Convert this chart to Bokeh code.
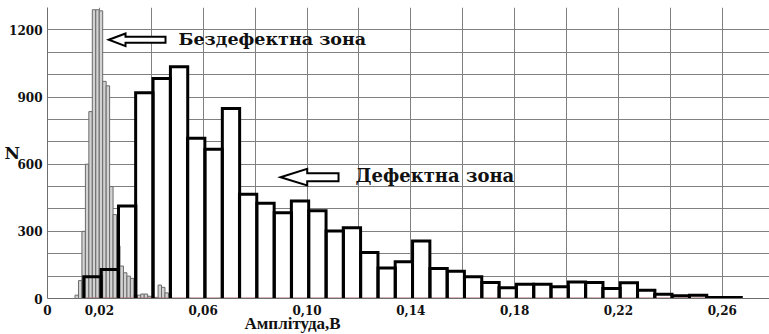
from bokeh.plotting import figure
from bokeh.models import Range1d, FixedTicker, Label, CustomJSTickFormatter, Title
from bokeh.embed import file_html
from bokeh.resources import INLINE

# ---------------- data ----------------
# defect zone histogram (bin centres, V) and counts
defect_centers = [0.0173, 0.0240, 0.0307, 0.0373, 0.0440, 0.0507, 0.0573, 0.0640,
                  0.0707, 0.0773, 0.0840, 0.0907, 0.0973, 0.1040, 0.1107, 0.1173,
                  0.1240, 0.1307, 0.1373, 0.1440, 0.1507, 0.1573, 0.1640, 0.1707,
                  0.1773, 0.1840, 0.1907, 0.1973, 0.2040, 0.2107, 0.2173, 0.2240,
                  0.2307, 0.2373, 0.2440, 0.2507, 0.2573, 0.2640]
defect_counts = [97, 130, 413, 919, 983, 1035, 716, 667, 849, 466, 425, 383, 436, 392,
                 301, 316, 206, 136, 164, 257, 134, 122, 97, 72, 48, 64, 64, 52, 74,
                 72, 45, 70, 37, 19, 12, 15, 4, 4]

# defect-free zone histogram
clean_centers = [0.01127, 0.0126, 0.01393, 0.01527, 0.0166, 0.01793, 0.01927, 0.0206,
                 0.02193, 0.02327, 0.0246, 0.02593, 0.02727, 0.0286, 0.02993, 0.03127,
                 0.0326, 0.03393, 0.03527, 0.0366, 0.03793, 0.03927, 0.0406, 0.04193,
                 0.04327, 0.0446, 0.04593]
clean_counts = [15, 80, 300, 600, 835, 1290, 1290, 1285, 970, 950, 500, 375, 235, 145,
                115, 100, 90, 15, 15, 20, 20, 10, 0, 5, 60, 50, 25]

x_tick_values = [0.0, 0.02, 0.06, 0.10, 0.14, 0.18, 0.22, 0.26]
x_tick_labels = ["0", "0,02", "0,06", "0,10", "0,14", "0,18", "0,22", "0,26"]
y_tick_values = [0, 300, 600, 900, 1200]
y_tick_labels = ["0", "300", "600", "900", "1200"]

x_title = "Амплітуда,В"
y_title = "N"
label_clean = "Бездефектна зона"
label_defect = "Дефектна зона"

# ---------------- figure ----------------
DEFECT_W = 0.02 / 3
CLEAN_W = 0.02 / 15
FONT = "DejaVu Serif"

p = figure(width=769, height=334, x_range=Range1d(0, 0.2782), y_range=Range1d(0, 1300),
           output_backend="svg", toolbar_location=None,
           min_border_left=47, min_border_right=0, min_border_top=7, min_border_bottom=36)
p.outline_line_color = None
p.background_fill_color = "white"
p.border_fill_color = "white"

p.xgrid.ticker = FixedTicker(ticks=[round(0.02 * i, 2) for i in range(15)])
p.ygrid.ticker = FixedTicker(ticks=list(range(0, 1301, 100)))
for g in (p.xgrid, p.ygrid):
    g.grid_line_color = "#808080"
    g.grid_line_width = 1

p.xaxis.ticker = FixedTicker(ticks=x_tick_values)
p.yaxis.ticker = FixedTicker(ticks=y_tick_values)
fmt_code = "const i = vals.findIndex(v => Math.abs(v - tick) < 1e-9); return i >= 0 ? labs[i] : '';"
p.xaxis.formatter = CustomJSTickFormatter(args=dict(vals=x_tick_values, labs=x_tick_labels), code=fmt_code)
p.yaxis.formatter = CustomJSTickFormatter(args=dict(vals=y_tick_values, labs=y_tick_labels), code=fmt_code)
for ax in (p.xaxis, p.yaxis):
    ax.major_tick_line_color = None
    ax.minor_tick_line_color = None
    ax.major_tick_out = 0
    ax.major_tick_in = 0
    ax.minor_tick_out = 0
    ax.minor_tick_in = 0
    ax.axis_line_color = "#6e6e6e"
    ax.major_label_text_font = FONT
    ax.major_label_text_font_style = "bold"
    ax.major_label_text_font_size = "12px"
    ax.major_label_text_color = "#111111"
p.xaxis.major_label_standoff = 6
p.yaxis.major_label_standoff = 5

# y axis title "N", horizontal, tucked into the tick-label column
p.yaxis.axis_label = y_title
p.yaxis.axis_label_orientation = "horizontal"
p.yaxis.axis_label_standoff = -14
p.yaxis.axis_label_text_font = FONT
p.yaxis.axis_label_text_font_style = "bold"
p.yaxis.axis_label_text_font_size = "17px"
p.yaxis.axis_label_text_color = "#111111"

# x axis title, left-of-centre as in the reference
p.add_layout(Title(text=x_title, align="left", offset=197, standoff=-10, vertical_align="middle",
                   text_font="Liberation Serif", text_font_style="bold", text_font_size="17px",
                   text_color="#111111"), "below")

# defect bars: white fill
d_left = [c - DEFECT_W / 2 for c in defect_centers]
d_right = [c + DEFECT_W / 2 for c in defect_centers]
p.quad(left=d_left, right=d_right, bottom=0, top=defect_counts,
       fill_color="white", line_color=None)

# defect-free bars
c_left = [c - CLEAN_W / 2 for c in clean_centers]
c_right = [c + CLEAN_W / 2 for c in clean_centers]
p.quad(left=c_left, right=c_right, bottom=0, top=clean_counts,
       fill_color="#d2d2d2", line_color="#6a6a6a", line_width=1)

# baseline under bars
p.segment(x0=d_left[0], x1=d_right[-1], y0=0, y1=0, line_color="#b06a6a", line_width=2)

# defect bar outlines (no bottom edge)
xs = [[l, l, r, r] for l, r in zip(d_left, d_right)]
ys = [[0, h, h, 0] for h in defect_counts]
p.multi_line(xs=xs, ys=ys, line_color="black", line_width=3, line_join="miter")

# ---------------- annotations (reference pixel positions) ----------------
X0_PX, PX_PER_X = 47.0, 2595.0
Y0_PX, PX_PER_Y = 298.0, 291.0 / 1300.0


def px2x(px):
    return (px - X0_PX) / PX_PER_X


def px2y(py):
    return (Y0_PX - py) / PX_PER_Y


def hollow_arrow(tx, ty, hl, hh, sh, sl):
    pts = [(tx, ty), (tx + hl, ty - hh), (tx + hl, ty - sh), (tx + hl + sl, ty - sh),
           (tx + hl + sl, ty + sh), (tx + hl, ty + sh), (tx + hl, ty + hh)]
    p.patch([px2x(a) for a, b in pts], [px2y(b) for a, b in pts],
            fill_color="white", line_color="black", line_width=2, line_join="miter")


hollow_arrow(108.3, 39.3, 16.7, 6.3, 3.0, 40.0)
hollow_arrow(280.0, 176.7, 26.7, 8.3, 4.0, 31.3)


def add_label(text, px, py, size, align="left"):
    p.add_layout(Label(x=px2x(px), y=px2y(py), text=text, text_font=FONT,
                       text_font_style="bold", text_font_size=size, text_color="#111111",
                       text_align=align, text_baseline="middle"))


add_label(label_clean, 178, 38.5, "17.5px")
add_label(label_defect, 355, 174.5, "18px")

open("out.html", "w").write(file_html(p, INLINE))
